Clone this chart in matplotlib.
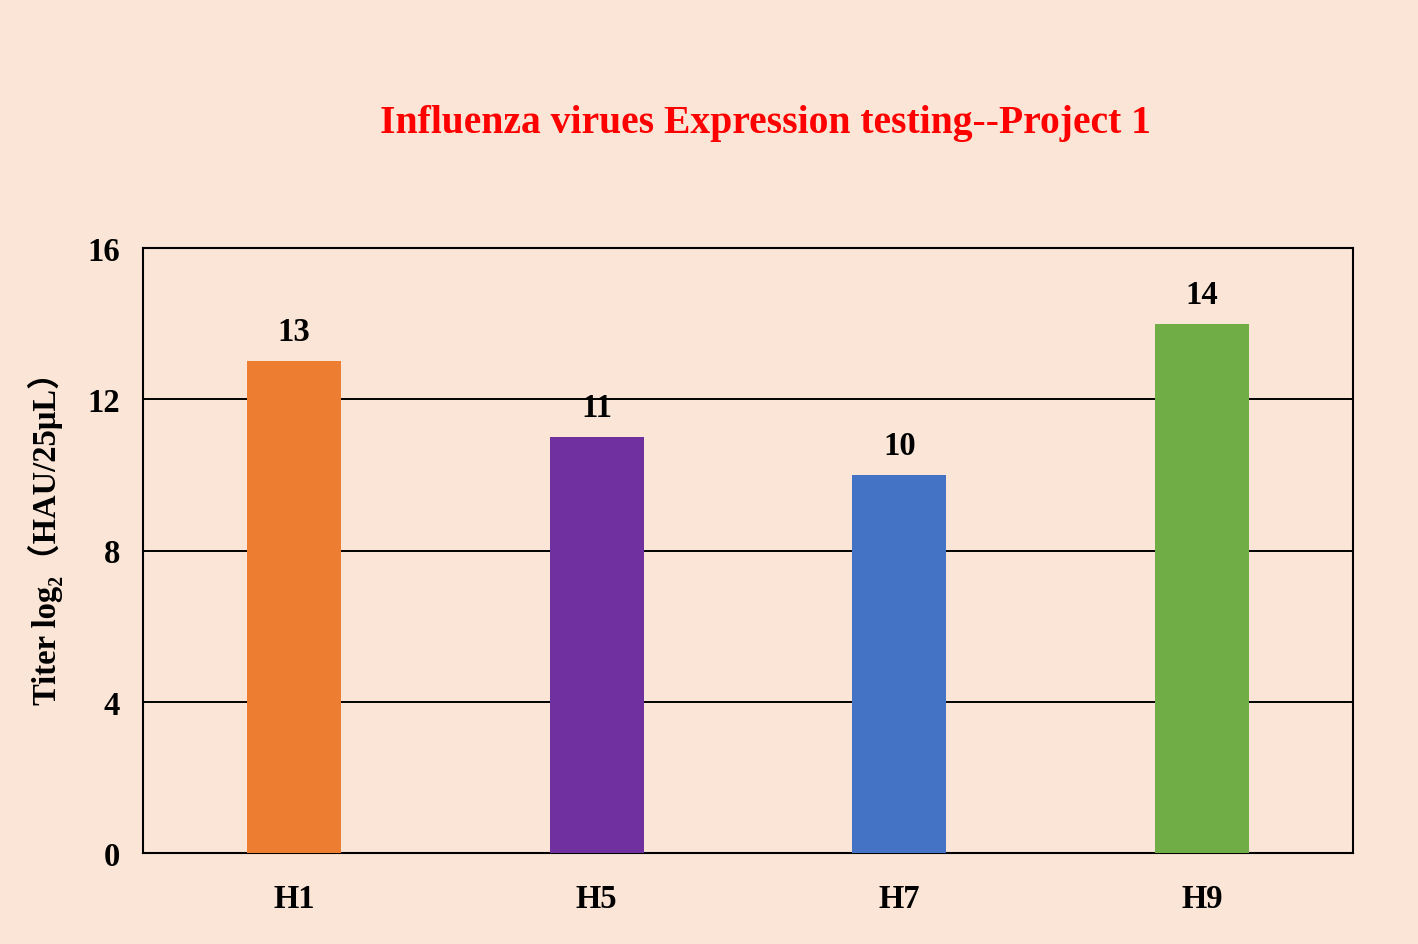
import matplotlib
matplotlib.use("Agg")
import matplotlib.pyplot as plt

categories = ["H1", "H5", "H7", "H9"]
values = [13, 11, 10, 14]
colors = ["#ED7D31", "#7030A0", "#4472C4", "#70AD47"]
yticks = [0, 4, 8, 12, 16]
title = "Influenza virues Expression testing--Project 1"
ylabel = "Titer log₂（HAU/25μL）"

bg = "#FBE5D6"
fam = ["Liberation Serif", "Noto Sans CJK SC", "DejaVu Serif"]
plt.rcParams["font.family"] = fam

fig = plt.figure(figsize=(14.18, 9.45), dpi=100, facecolor=bg)
ax = fig.add_axes([143/1418, 1-854/945, (1353-143)/1418, (854-249)/945])
ax.set_facecolor(bg)

x = range(len(categories))
bars = ax.bar(x, values, width=0.31, color=colors, zorder=3)
for xi, v in zip(x, values):
    ax.text(xi, v + 0.37, str(v), ha="center", va="bottom", fontsize=23.5,
            fontweight="bold", family=fam)

ax.set_xlim(-0.5, len(categories) - 0.5)
ax.set_ylim(0, 16)
ax.set_yticks(yticks)
ax.set_xticks(list(x))
ax.set_xticklabels(categories, fontsize=23.5, fontweight="bold")
ax.set_yticklabels([str(t) for t in yticks], fontsize=23.5, fontweight="bold")
ax.tick_params(length=0)
ax.tick_params(axis="y", pad=16.5)
ax.tick_params(axis="x", pad=21.5)
ax.yaxis.grid(True, color="black", linewidth=1.4, zorder=1)
for s in ax.spines.values():
    s.set_linewidth(1.5)
    s.set_color("black")

fig.text(765/1418, 1-124/945, title, ha="center", va="center", color="#FF0000",
         fontsize=28.5, fontweight="bold")
fig.text(45/1418, 1-531/945, ylabel, rotation=90, ha="center", va="center",
         fontsize=23.5, fontweight="bold", family=fam)

fig.savefig("out.png", dpi=100, facecolor=bg)
